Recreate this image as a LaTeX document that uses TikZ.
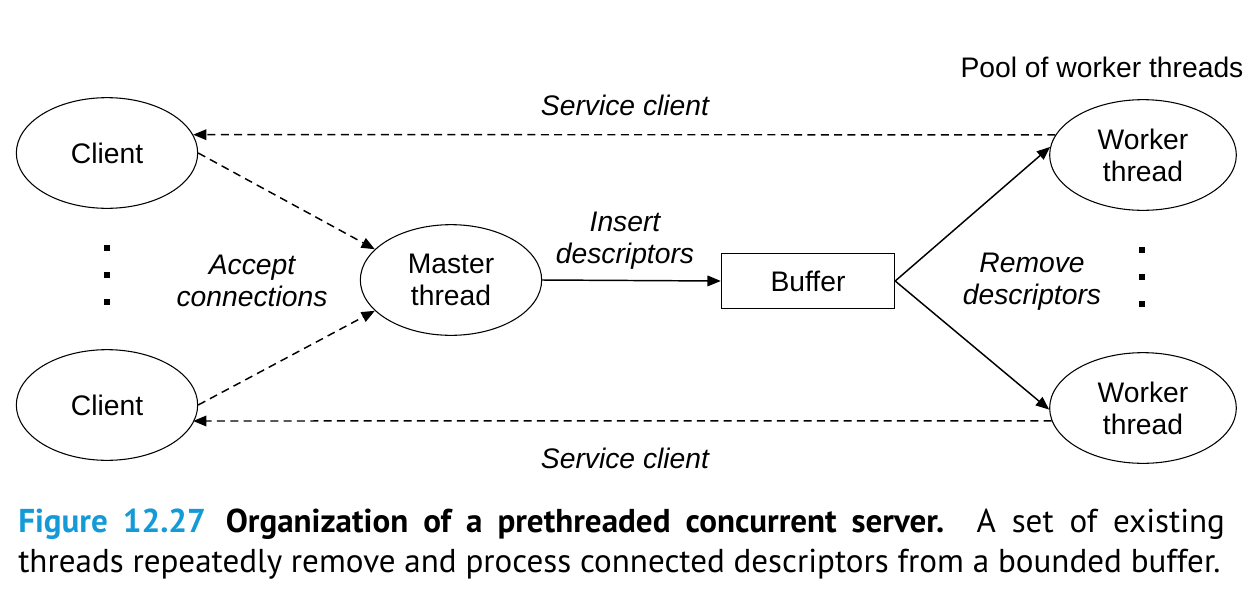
\documentclass[tikz,border=0pt]{standalone}
\usepackage{fontspec}
\setmainfont{Liberation Sans}
\newfontfamily\capfont{PT Sans}
\usetikzlibrary{shapes.geometric,arrows.meta}
\definecolor{figblue}{RGB}{20,155,215}
\tikzset{
  lbl/.style={font=\fontsize{21.2}{23.8}\selectfont, align=center, inner sep=0pt},
  ilbl/.style={lbl, font=\fontsize{21.2}{23.8}\selectfont\itshape},
  oval/.style={ellipse, draw, line width=0.8pt, minimum width=136pt, minimum height=83pt, inner sep=0pt, align=center, font=\fontsize{21.2}{24}\selectfont},
  box/.style={rectangle, draw, line width=0.8pt, minimum width=130pt, minimum height=41pt, inner sep=0pt, font=\fontsize{21.2}{24}\selectfont},
  arr/.style={line width=1.1pt, -{Triangle[length=10pt,width=8pt]}},
  darr/.style={arr, dash pattern=on 6pt off 4pt},
  dotsq/.style={fill=black, minimum size=4.5pt, inner sep=0pt}
}
\begin{document}
\begin{tikzpicture}[x=0.75pt,y=-0.75pt]
\useasboundingbox (0,0) rectangle (1258,604);
\node[oval] (ct) at (107,153) {Client};
\node[oval] (cb) at (107,405) {Client};
\node[oval] (mt) at (451,280) {Master\\thread};
\node[box] (buf) at (808,281) {Buffer};
\node[oval, minimum width=140pt] (wt) at (1143,155) {Worker\\thread};
\node[oval, minimum width=140pt] (wb) at (1143,408) {Worker\\thread};
\node[lbl] (pool) at (1102,67) {Pool of worker threads};
\node[ilbl] (sct) at (625,105) {Service client};
\node[ilbl] (scb) at (625,458) {Service client};
\node[ilbl] (acc) at (252,281) {Accept\\connections};
\node[ilbl] (ins) at (625,241) {Insert\\descriptors};
\node[ilbl] (rem) at (1032,282) {Remove\\descriptors};
\node[dotsq] (l1) at (107,248) {};
\node[dotsq] (l2) at (107,275) {};
\node[dotsq] (l3) at (107,302) {};
\node[dotsq] (r1) at (1142,250) {};
\node[dotsq] (r2) at (1142,277) {};
\node[dotsq] (r3) at (1142,304) {};
\draw[darr] (wt.167) -- (ct.12);
\draw[darr] (wb.188) -- (ct.12 |- 0,421);
\draw[darr] (ct.east) -- (mt.158);
\draw[darr] (cb.east) -- (mt.202);
\draw[arr] (mt.east) -- (buf.west);
\draw[arr] (buf.east) -- (wt.175);
\draw[arr] (buf.east) -- (wb.181);
\node[anchor=base west, text width=905pt, align=justify, inner sep=0pt,
      font=\capfont\fontsize{24.8}{30}\selectfont] (cap) at (18,532)
  {\textcolor{figblue}{\bfseries Figure 12.27}\hspace{0.6em}{\bfseries Organization of a prethreaded concurrent server.} A set of existing\linebreak threads repeatedly remove and process connected descriptors from a bounded buffer.};
\end{tikzpicture}
\end{document}
